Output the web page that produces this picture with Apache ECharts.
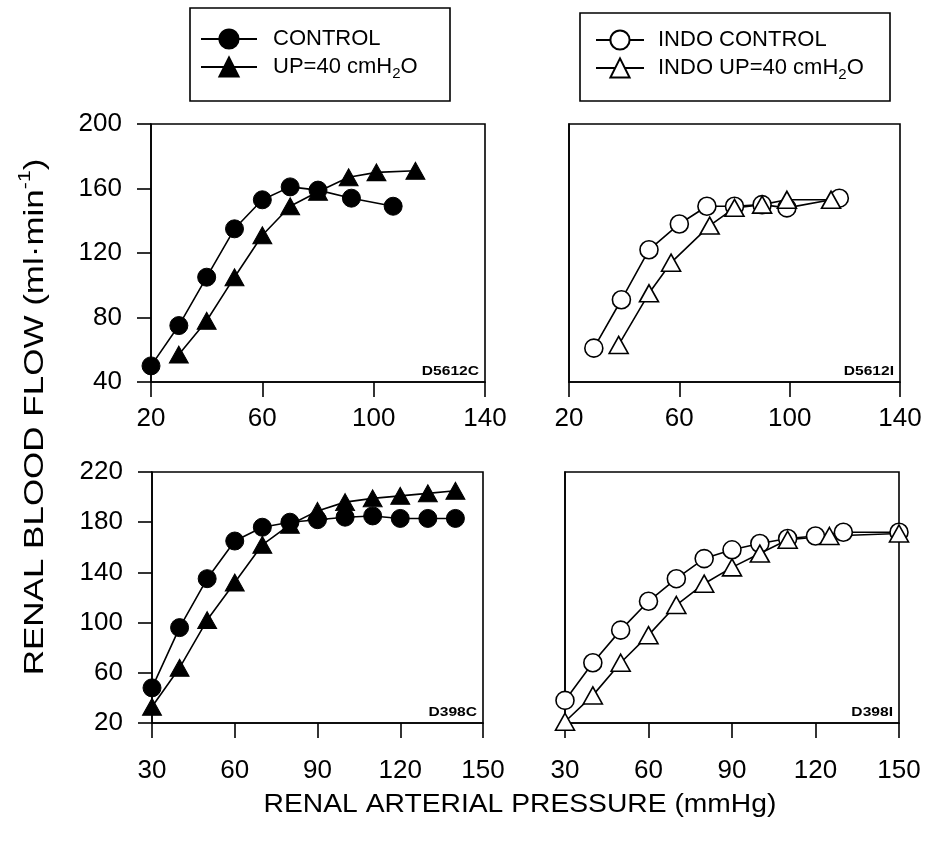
<!DOCTYPE html>
<html><head><meta charset="utf-8">
<script src="https://cdn.jsdelivr.net/npm/echarts@6/dist/echarts.min.js"></script>
<style>html,body{margin:0;padding:0;background:#fff}#c{width:925px;height:843px}</style>
</head><body><div id="c"></div>
<script>
const FONT = '"Liberation Sans", Arial, Helvetica, sans-serif';

// ---- Data ----
const seriesNames = ['CONTROL', 'UP=40 cmH2O', 'INDO CONTROL', 'INDO UP=40 cmH2O'];
const panelIds = ['D5612C', 'D5612I', 'D398C', 'D398I'];

// Panel D5612C
const tlCtrlX = [20, 30, 40, 50, 60, 70, 80, 92, 107];
const tlCtrlY = [50, 75, 105, 135, 153, 161, 159, 154, 149];
const tlUpX = [30, 40, 50, 60, 70, 80, 91, 101, 115];
const tlUpY = [57, 78, 105, 131, 149, 158, 167, 170, 171];
// Panel D5612I
const trCtrlX = [29, 39, 49, 60, 70, 80, 90, 99, 118];
const trCtrlY = [61, 91, 122, 138, 149, 149, 150, 148, 154];
const trUpX = [38, 49, 57, 71, 80, 90, 99, 115];
const trUpY = [63, 95, 114, 137, 148, 150, 153, 153];
// Panel D398C
const blCtrlX = [30, 40, 50, 60, 70, 80, 90, 100, 110, 120, 130, 140];
const blCtrlY = [48, 96, 135, 165, 176, 180, 182, 184, 185, 183, 183, 183];
const blUpX = [30, 40, 50, 60, 70, 80, 90, 100, 110, 120, 130, 140];
const blUpY = [33, 64, 102, 132, 162, 178, 189, 196, 199, 201, 203, 205];
// Panel D398I
const brCtrlX = [30, 40, 50, 60, 70, 80, 90, 100, 110, 120, 130, 150];
const brCtrlY = [38, 68, 94, 117, 135, 151, 158, 163, 167, 169, 172, 172];
const brUpX = [30, 40, 50, 60, 70, 80, 90, 100, 110, 125, 150];
const brUpY = [21, 42, 68, 90, 114, 131, 144, 155, 166, 169, 171];

// Tick labels
const topXTicks = [20, 60, 100, 140];
const topYTicks = [40, 80, 120, 160, 200];
const botXTicks = [30, 60, 90, 120, 150];
const botYTicks = [20, 60, 100, 140, 180, 220];

const xTitle = 'RENAL ARTERIAL PRESSURE (mmHg)';
const yTitleMain = 'RENAL BLOOD FLOW (ml·min';
const yTitleSup = '-1';

// ---- Layout ----
const grids = [
  {left: 151, top: 124, width: 334, height: 258},
  {left: 569, top: 124, width: 331, height: 258},
  {left: 152, top: 472, width: 331, height: 251},
  {left: 565, top: 472, width: 334, height: 251}
];
const zip = (xs, ys) => xs.map((x, i) => [x, ys[i]]);

const black = '#000';
const LW = 1.6;

function xAxisFor(i, ticks, margin) {
  return {
    gridIndex: i, type: 'value',
    min: ticks[0], max: ticks[ticks.length - 1], interval: ticks[1] - ticks[0],
    axisLine: {show: true, onZero: false, lineStyle: {color: black, width: LW}},
    axisTick: {show: true, length: 15, lineStyle: {color: black, width: LW}},
    axisLabel: {show: true, color: black, fontSize: 26, fontFamily: FONT, margin: margin},
    splitLine: {show: false}
  };
}
function yAxisFor(i, ticks, showLabels) {
  return {
    gridIndex: i, type: 'value',
    min: ticks[0], max: ticks[ticks.length - 1], interval: ticks[1] - ticks[0],
    axisLine: {show: true, onZero: false, lineStyle: {color: black, width: LW}},
    axisTick: {show: showLabels, length: 14, lineStyle: {color: black, width: LW}},
    axisLabel: {show: showLabels, color: black, fontSize: 26, fontFamily: FONT, margin: 29},
    splitLine: {show: false}
  };
}

function mk(name, idx, data, filled, symbol) {
  return {
    name: name, type: 'line', xAxisIndex: idx, yAxisIndex: idx,
    data: data, symbol: symbol,
    symbolSize: symbol === 'circle' ? 18 : [19, 17],
    showAllSymbol: true,
    lineStyle: {color: black, width: LW},
    itemStyle: filled ? {color: black, borderColor: black, borderWidth: 1}
                      : {color: '#fff', borderColor: black, borderWidth: LW},
    emphasis: {disabled: true},
    z: 2
  };
}

const series = [
  mk(seriesNames[1], 0, zip(tlUpX, tlUpY), true, 'triangle'),
  mk(seriesNames[0], 0, zip(tlCtrlX, tlCtrlY), true, 'circle'),
  mk(seriesNames[2], 1, zip(trCtrlX, trCtrlY), false, 'circle'),
  mk(seriesNames[3], 1, zip(trUpX, trUpY), false, 'triangle'),
  mk(seriesNames[1], 2, zip(blUpX, blUpY), true, 'triangle'),
  mk(seriesNames[0], 2, zip(blCtrlX, blCtrlY), true, 'circle'),
  mk(seriesNames[2], 3, zip(brCtrlX, brCtrlY), false, 'circle'),
  mk(seriesNames[3], 3, zip(brUpX, brUpY), false, 'triangle')
];

function legendFor(names, left, top, itemWidth, textPad) {
  return {
    orient: 'vertical', left: left, top: top, padding: 0,
    data: names, selectedMode: false,
    itemWidth: itemWidth, itemHeight: 24, itemGap: 0,
    formatter: n => n.replace('H2O', 'H{sub|2}O'),
    textStyle: {
      color: black, fontSize: 22, fontFamily: FONT, lineHeight: 28,
      padding: [0, 0, 0, textPad],
      rich: {sub: {fontSize: 15, fontFamily: FONT, color: black, lineHeight: 12, verticalAlign: 'bottom'}}
    }
  };
}

const graphics = [
  {type: 'rect', shape: {x: 190, y: 8, width: 260, height: 93}, style: {fill: 'none', stroke: black, lineWidth: LW}, z: 0},
  {type: 'rect', shape: {x: 580, y: 13, width: 310, height: 88}, style: {fill: 'none', stroke: black, lineWidth: LW}, z: 0},
  {type: 'text', x: 520, y: 805, scaleX: 1.13,
   style: {text: xTitle, fontSize: 25, fontFamily: FONT, fill: black, align: 'center', verticalAlign: 'middle'}},
  {type: 'text', x: 35, y: 417, rotation: Math.PI / 2, scaleX: 1.25,
   style: {text: yTitleMain + '{sup|' + yTitleSup + '})', fontSize: 28, fontFamily: FONT, fill: black,
           lineHeight: 36, align: 'center', verticalAlign: 'middle',
           rich: {sup: {fontSize: 17, fontFamily: FONT, fill: black, lineHeight: 16, verticalAlign: 'top'}}}}
];
grids.forEach((g, i) => {
  graphics.push({type: 'text', x: g.left + g.width - 6, y: g.top + g.height - 10, scaleX: 1.3,
    style: {text: panelIds[i], fontSize: 12, fontWeight: 'bold', fontFamily: FONT, fill: black, align: 'right', verticalAlign: 'middle'}, z: 5});
});

const option = {
  animation: false,
  backgroundColor: '#fff',
  grid: grids.map(g => Object.assign({show: true, borderColor: black, borderWidth: LW, backgroundColor: 'transparent'}, g)),
  xAxis: [xAxisFor(0, topXTicks, 24), xAxisFor(1, topXTicks, 24), xAxisFor(2, botXTicks, 35), xAxisFor(3, botXTicks, 35)],
  yAxis: [yAxisFor(0, topYTicks, true), yAxisFor(1, topYTicks, false), yAxisFor(2, botYTicks, true), yAxisFor(3, botYTicks, false)],
  legend: [
    legendFor([seriesNames[0], seriesNames[1]], 200, 25, 56, 11),
    legendFor([seriesNames[2], seriesNames[3]], 595, 26, 48, 9)
  ],
  graphic: graphics,
  series: series
};

const chart = echarts.init(document.getElementById('c'), null, {renderer: 'canvas'});
chart.setOption(option);
</script>
</body></html>
